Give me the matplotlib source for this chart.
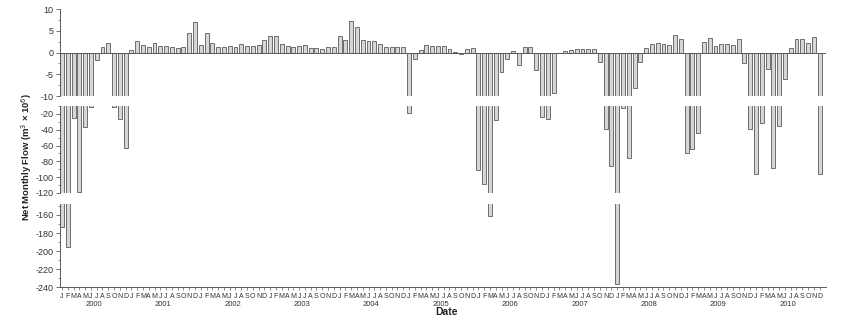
import matplotlib
matplotlib.use("Agg")
import matplotlib.pyplot as plt
from matplotlib.ticker import MultipleLocator
import numpy as np

plt.rcParams["font.family"] = ["Liberation Sans", "DejaVu Sans"]
plt.rcParams["axes.unicode_minus"] = False

years = list(range(2000, 2011))
month_letters = ["J", "F", "M", "A", "M", "J", "J", "A", "S", "O", "N", "D"]

# net monthly flow (m3 x 10^6), Jan..Dec
flow_2000 = [-173, -195, -25, -119, -37, -11, -1.8, 1.3, 2.1, -11, -27, -63]
flow_2001 = [0.5, 2.6, 1.7, 1.3, 2.1, 1.4, 1.4, 1.2, 1.1, 1.2, 4.6, 7.1]
flow_2002 = [1.8, 4.5, 2.2, 1.3, 1.3, 1.6, 1.2, 2.0, 1.6, 1.5, 1.7, 2.8]
flow_2003 = [3.9, 3.7, 2.0, 1.5, 1.3, 1.5, 1.7, 1.1, 1.0, 0.9, 1.3, 1.3]
flow_2004 = [3.8, 2.8, 7.3, 5.9, 2.8, 2.6, 2.6, 2.0, 1.3, 1.3, 1.3, 1.3]
flow_2005 = [-19, -1.6, 0.5, 1.8, 1.5, 1.4, 1.6, 0.9, 0.1, -0.3, 0.8, 1.1]
flow_2006 = [-91, -108, -161, -28, -4.5, -1.4, 0.3, -2.9, 1.3, 1.3, -4.1, -24]
flow_2007 = [-26, -9.2, -0.2, 0.4, 0.5, 0.9, 0.8, 0.7, 0.7, -2.2, -39, -86]
flow_2008 = [-237, -12, -76, -8.1, -2.2, 1.1, 2.0, 2.2, 2.0, 1.7, 4.0, 3.2]
flow_2009 = [-69, -65, -44, 2.5, 3.3, 1.4, 2.0, 2.0, 1.7, 3.0, -2.3, -39]
flow_2010 = [-96, -31, -3.9, -88, -35, -6.2, 1.0, 3.2, 3.0, 2.3, 3.5, -96]

flow = np.array(flow_2000 + flow_2001 + flow_2002 + flow_2003 + flow_2004 + flow_2005
                + flow_2006 + flow_2007 + flow_2008 + flow_2009 + flow_2010)
x = np.arange(len(flow))

fill = "#d6d6d6"
edge = "#5a5a5a"
txt = "#333333"

fig = plt.figure(figsize=(8.64, 3.19), dpi=100)
left, width = 0.0694, 0.8866
ax_top = fig.add_axes([left, 0.699, width, 0.2727])
ax_mid = fig.add_axes([left, 0.395, width, 0.2727])
ax_bot = fig.add_axes([left, 0.100, width, 0.260])

for ax in (ax_top, ax_mid, ax_bot):
    ax.bar(x, flow, width=0.68, color=fill, edgecolor=edge, linewidth=0.6)
    ax.set_xlim(-0.35, 132.1)
    for s in ("top", "right", "bottom"):
        ax.spines[s].set_visible(False)
    ax.spines["left"].set_color(edge)
    ax.spines["left"].set_linewidth(0.7)
    ax.tick_params(axis="y", which="major", length=3, width=0.6, color=edge,
                   labelsize=6.5, labelcolor=txt, pad=1.5)
    ax.tick_params(axis="y", which="minor", length=1.8, width=0.5, color=edge)
    ax.tick_params(axis="x", which="both", bottom=False, labelbottom=False)

ax_top.set_ylim(-10, 10)
ax_top.yaxis.set_major_locator(MultipleLocator(5))
ax_top.yaxis.set_minor_locator(MultipleLocator(2.5))
ax_top.axhline(0, color=edge, lw=0.7)

ax_mid.set_ylim(-120, -10)
ax_mid.set_yticks([-20, -40, -60, -80, -100, -120])
ax_mid.yaxis.set_minor_locator(MultipleLocator(10))

ax_bot.set_ylim(-240, -148)
ax_bot.set_yticks([-160, -180, -200, -220, -240])
ax_bot.yaxis.set_minor_locator(MultipleLocator(10))
ax_bot.spines["bottom"].set_visible(True)
ax_bot.spines["bottom"].set_color(edge)
ax_bot.spines["bottom"].set_linewidth(0.7)
ax_bot.set_xticks(x)
ax_bot.set_xticklabels(month_letters * len(years))
ax_bot.tick_params(axis="x", which="major", bottom=True, labelbottom=True, length=2.5,
                   width=0.5, color=edge, labelsize=5, labelcolor=txt, pad=1.5)

for k, yr in enumerate(years):
    ax_bot.text(12 * k + 5.5, -0.205, str(yr), transform=ax_bot.get_xaxis_transform(),
                ha="center", va="center", fontsize=5.5, color=txt)

fig.text(0.517, 0.022, "Date", ha="center", va="center", fontsize=7.5,
         fontweight="bold", color="#222222")
fig.text(0.031, 0.508, "Net Monthly Flow (m$^3$ × 10$^6$)", rotation=90, ha="center",
         va="center", fontsize=6.8, fontweight="bold", color="#222222")

fig.savefig("out.png", dpi=100)
